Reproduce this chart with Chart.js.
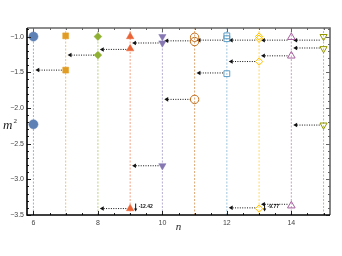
<!DOCTYPE html>
<html>
<head>
<meta charset="utf-8">
<script src="https://cdn.jsdelivr.net/npm/chart.js@4.4.0/dist/chart.umd.min.js"></script>
<style>
    html, body { margin: 0; padding: 0; background: #fff; }
    #wrap { width: 342px; height: 256px; }
</style>
</head>
<body>
<div id="wrap"><canvas id="myChart" width="342" height="256"></canvas></div>
<script>
// m^2 levels for every n
const nValues = [6, 7, 8, 9, 10, 11, 12, 13, 14, 15];
const m2n6 = [-1.00, -2.23];
const m2n7 = [-0.99, -1.47];
const m2n8 = [-1.00, -1.26];
const m2n9 = [-1.00, -1.17, -12.42];
const m2n10 = [-1.00, -1.09, -2.81];
const m2n11 = [-1.01, -1.07, -1.88];
const m2n12 = [-0.99, -1.03, -1.52];
const m2n13 = [-1.00, -1.03, -1.35, -9.77];
const m2n14 = [-1.01, -1.27, -3.37];
const m2n15 = [-1.00, -1.17, -2.24];
const series = [m2n6, m2n7, m2n8, m2n9, m2n10, m2n11, m2n12, m2n13, m2n14, m2n15];

// dotted arrows: from level at n over to line n-1
const arrowN = [7, 8, 9, 9, 10, 10, 11, 11, 12, 12, 13, 13, 13, 14, 14, 14, 15, 15, 15];
const arrowM2 = [-1.47, -1.26, -1.18, -3.41, -1.09, -2.81, -1.06, -1.88, -1.05, -1.51, -1.05, -1.35, -3.40, -1.05, -1.27, -3.35, -1.05, -1.16, -2.24];

// levels off the bottom of the plot
const clipN = [9, 13];
const clipLabels = ['-12.42', '-9.77'];

const xTicks = [6, 8, 10, 12, 14];
const yTicks = [-3.5, -3.0, -2.5, -2.0, -1.5, -1.0];

const xMin = 5.8, xMax = 15.2, yMin = -3.5, yMax = -0.88;
const floorM2 = -3.41;

const colors = ['#5E81B5', '#E19C24', '#8FB032', '#EB6235', '#8778B3', '#C56E1A', '#5D9EC7', '#FFBF00', '#A5609D', '#929600'];
const shapes = ['circle', 'rect', 'rectRot', 'triangle', 'triangle', 'circle', 'rect', 'rectRot', 'triangle', 'triangle'];
const turns = [0, 0, 0, 0, 180, 0, 0, 0, 0, 180];
const sizes = [4.6, 4.2, 3.9, 4.3, 4.2, 4.2, 4.1, 3.7, 4.4, 4.1];

function fade(hex, a) {
    let r = parseInt(hex.slice(1, 3), 16), g = parseInt(hex.slice(3, 5), 16), b = parseInt(hex.slice(5, 7), 16);
    return 'rgba(' + r + ',' + g + ',' + b + ',' + a + ')';
}

let datasets = [];

nValues.forEach(function (n, i) {
    datasets.push({
        data: [{x: n, y: yMin}, {x: n, y: yMax}],
        showLine: true,
        borderColor: fade(colors[i], 0.6),
        borderWidth: 1,
        borderDash: [2, 1.5],
        pointRadius: 0,
        order: 3
    });
});

arrowN.forEach(function (n, i) {
    datasets.push({
        data: [{x: n - 0.12, y: arrowM2[i]}, {x: n - 0.86, y: arrowM2[i]}],
        showLine: true,
        borderColor: '#111',
        borderWidth: 1,
        borderDash: [1, 1.4],
        pointRadius: [0, 2.6],
        pointStyle: 'triangle',
        rotation: -90,
        pointBackgroundColor: '#111',
        pointBorderWidth: 0,
        order: 2
    });
});

series.forEach(function (vals, i) {
    let filled = i < 5;
    datasets.push({
        data: vals.map(v => ({x: nValues[i], y: Math.max(v, floorM2)})),
        showLine: false,
        pointStyle: shapes[i],
        rotation: turns[i],
        pointRadius: sizes[i],
        pointBackgroundColor: filled ? colors[i] : 'rgba(255,255,255,0)',
        pointBorderColor: colors[i],
        pointBorderWidth: filled ? 0.5 : 1,
        clip: false,
        order: 1
    });
});

const framePlugin = {
    id: 'frame',
    afterDraw: function (chart) {
        let c = chart.ctx, a = chart.chartArea;
        let xs = chart.scales.x, ys = chart.scales.y;
        c.save();

        // tick marks on all four sides
        c.lineWidth = 1;
        for (let k = 0; k <= 18; k++) {
            let v = 6 + k * 0.5;
            let px = Math.round(xs.getPixelForValue(v)) + 0.5;
            let len = xTicks.includes(v) ? 4 : 2;
            c.strokeStyle = '#222';
            c.beginPath(); c.moveTo(px, a.bottom); c.lineTo(px, a.bottom - len); c.stroke();
            c.strokeStyle = '#666';
            c.beginPath(); c.moveTo(px, a.top); c.lineTo(px, a.top + len); c.stroke();
        }
        for (let k = 0; k <= 26; k++) {
            let v = Math.round((yMin + k * 0.1) * 10) / 10;
            let py = Math.round(ys.getPixelForValue(v)) + 0.5;
            let len = yTicks.some(t => Math.abs(t - v) < 1e-6) ? 4 : 2;
            c.strokeStyle = '#222';
            c.beginPath(); c.moveTo(a.left, py); c.lineTo(a.left + len, py); c.stroke();
            c.strokeStyle = '#666';
            c.beginPath(); c.moveTo(a.right, py); c.lineTo(a.right - len, py); c.stroke();
        }

        // frame
        c.lineWidth = 1.6;
        c.strokeStyle = '#666';
        c.beginPath(); c.moveTo(a.left, a.top); c.lineTo(a.right, a.top); c.lineTo(a.right, a.bottom); c.stroke();
        c.strokeStyle = '#000';
        c.beginPath(); c.moveTo(a.left, a.top); c.lineTo(a.left, a.bottom); c.lineTo(a.right, a.bottom); c.stroke();

        // markers for levels below the plot
        c.fillStyle = '#111';
        c.strokeStyle = '#111';
        c.lineWidth = 1;
        c.font = 'bold 5px "Liberation Sans"';
        c.textBaseline = 'middle';
        clipN.forEach(function (n, i) {
            let px = xs.getPixelForValue(n) + 5.5;
            let py = ys.getPixelForValue(floorM2);
            c.beginPath(); c.moveTo(px, py - 5); c.lineTo(px, py + 1); c.stroke();
            c.beginPath(); c.moveTo(px - 1.6, py); c.lineTo(px + 1.6, py); c.lineTo(px, py + 3); c.closePath(); c.fill();
            c.fillText(clipLabels[i], px + 3, py - 2);
        });

        // axis titles
        c.fillStyle = '#222';
        c.textBaseline = 'alphabetic';
        c.textAlign = 'left';
        c.font = 'italic 13px "Liberation Serif"';
        let my = (a.top + a.bottom) / 2 + 7;
        c.fillText('m', 3, my);
        c.font = '7px "Liberation Serif"';
        c.fillText('2', 13.5, my - 6);
        c.font = 'italic 11px "Liberation Serif"';
        c.textAlign = 'center';
        c.fillText('n', (a.left + a.right) / 2, 230);
        c.restore();
    }
};

var ctx = document.getElementById('myChart').getContext('2d');
var myChart = new Chart(ctx, {
    type: 'scatter',
    data: {
        datasets: datasets
    },
    options: {
        responsive: false,
        animation: false,
        devicePixelRatio: 1,
        layout: {
            padding: {top: 28, right: 12, left: 0, bottom: 0}
        },
        plugins: {
            legend: {display: false},
            tooltip: {enabled: false}
        },
        scales: {
            x: {
                type: 'linear',
                min: xMin,
                max: xMax,
                grid: {display: false, drawTicks: false},
                border: {display: false},
                afterBuildTicks: function (s) { s.ticks = xTicks.map(v => ({value: v})); },
                afterFit: function (s) { s.height = 41; },
                ticks: {
                    padding: 4,
                    maxRotation: 0,
                    color: '#444',
                    font: {family: 'Liberation Sans', size: 7},
                    callback: function (v) { return String(v); }
                }
            },
            y: {
                type: 'linear',
                min: yMin,
                max: yMax,
                grid: {display: false, drawTicks: false},
                border: {display: false},
                afterBuildTicks: function (s) { s.ticks = yTicks.map(v => ({value: v})); },
                afterFit: function (s) { s.width = 27; },
                ticks: {
                    padding: 3,
                    color: '#444',
                    font: {family: 'Liberation Sans', size: 7},
                    callback: function (v) { return (v < 0 ? '\u2212' : '') + Math.abs(v).toFixed(1); }
                }
            }
        }
    },
    plugins: [framePlugin]
});
</script>
</body>
</html>
